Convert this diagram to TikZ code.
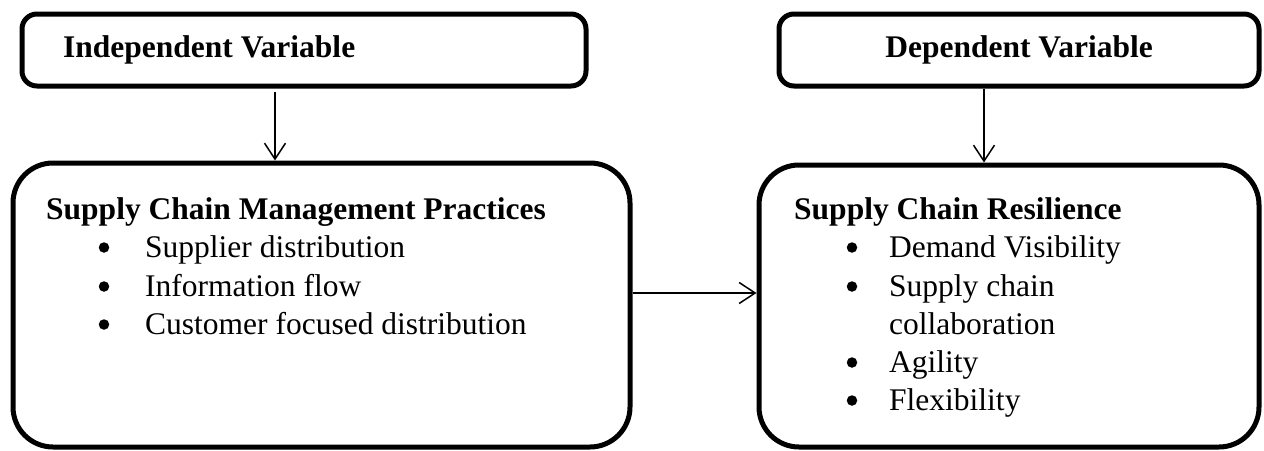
\documentclass[tikz,border=0pt]{standalone}
\usepackage{fontspec}
\setmainfont{Liberation Serif}
\usetikzlibrary{arrows.meta}
\begin{document}
\begin{tikzpicture}[x=1pt,y=-1pt,
  varbox/.style={draw,line width=5pt,rounded corners=15pt,inner sep=0pt,minimum height=72pt},
  bigbox/.style={draw,line width=5pt,rounded corners=40pt,inner sep=0pt},
  hd/.style={anchor=base west,inner sep=0pt,font=\fontsize{31.5}{38}\selectfont\bfseries},
  itm/.style={anchor=base west,inner sep=0pt,font=\fontsize{31.5}{38}\selectfont},
  bul/.style={circle,fill,inner sep=0pt,minimum size=10.5pt},
  arr/.style={line width=1.5pt,-{Straight Barb[length=16pt,width=21pt,line width=1.5pt]}}]
\useasboundingbox (0,0) rectangle (1264,450);
% boxes
\node[varbox,minimum width=564pt] (tl) at (304,50) {};
\node[varbox,minimum width=480pt] (tr) at (1019,50) {};
\node[bigbox,minimum width=617pt,minimum height=284pt] (bl) at (321.5,305) {};
\node[bigbox,minimum width=500pt,minimum height=282pt] (br) at (1009,306) {};
% top texts
\node[hd] (tlt) at (63,57) {Independent Variable};
\node[hd,anchor=base] (trt) at (1019,57) {Dependent Variable};
% left box texts
\node[hd] (blh) at (46,219) {Supply Chain Management Practices};
\node[bul] (lb1) at (104,247.5) {};
\node[bul] (lb2) at (104,286.5) {};
\node[bul] (lb3) at (104,324.5) {};
\node[itm] (li1) at (145,257) {Supplier distribution};
\node[itm] (li2) at (145,296) {Information flow};
\node[itm] (li3) at (145,334) {Customer focused distribution};
% right box texts
\node[hd] (brh) at (794,219) {Supply Chain Resilience};
\node[bul] (rb1) at (852,247.5) {};
\node[bul] (rb2) at (852,286.5) {};
\node[bul] (rb3) at (852,362.5) {};
\node[bul] (rb4) at (852,400.5) {};
\node[itm] (ri1) at (889,257) {Demand Visibility};
\node[itm] (ri2) at (889,296) {Supply chain};
\node[itm] (ri2b) at (889,334) {collaboration};
\node[itm] (ri3) at (889,372) {Agility};
\node[itm] (ri4) at (889,410) {Flexibility};
% connectors
\coordinate (a1) at (275,0);
\coordinate (a2) at (984,0);
\coordinate (a3) at (0,293);
\draw[arr,shorten <=3pt] (tl.south -| a1) -- (bl.north -| a1);
\draw[arr] (tr.south -| a2) -- (br.north -| a2);
\draw[arr] (bl.east |- a3) -- (br.west |- a3);
\end{tikzpicture}
\end{document}
